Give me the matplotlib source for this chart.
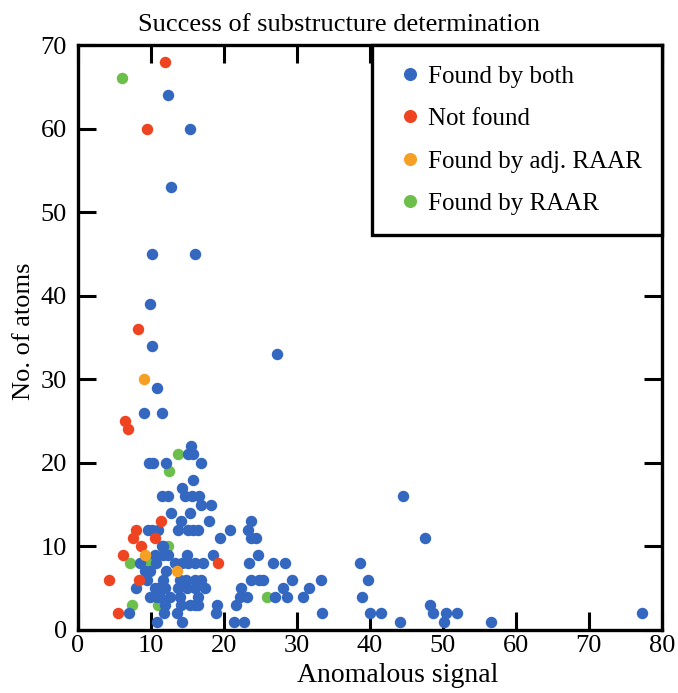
import matplotlib
matplotlib.use("Agg")
import matplotlib.pyplot as plt
from matplotlib.lines import Line2D

plt.rcParams['font.family'] = ['Liberation Serif', 'DejaVu Serif']

# Found by both (blue)
both_x = [12.3, 15.3, 12.8, 10.2, 16.0, 9.9, 10.2, 10.8, 9.0, 11.5, 27.3, 15.5,
          44.5, 47.5, 38.7, 39.8, 38.9, 40.0, 41.5, 44.2, 48.2, 48.6, 50.4, 50.2, 51.9, 56.6, 77.3,
          15.1, 15.7, 12.1, 16.8, 9.8, 10.3, 15.8, 14.3, 11.5, 12.4, 14.7, 15.6, 16.6,
          16.9, 18.2, 12.8, 15.3, 14.1, 17.9, 23.7,
          9.6, 10.2, 11.0, 13.7, 15.1, 15.8, 16.5, 20.9, 23.3,
          19.4, 23.7, 24.4, 11.7, 11.5,
          10.5, 11.6, 12.4, 15.0, 18.5, 24.7,
          8.5, 10.7, 13.3, 14.2, 15.1, 16.0, 17.2, 23.5, 26.7, 28.4,
          9.2, 9.9, 12.1,
          9.4, 11.7, 14.0, 14.8, 16.0, 16.9, 23.7, 24.8, 25.4, 29.3, 33.3,
          7.9, 10.5, 11.0, 11.9, 13.7, 14.9, 16.0, 17.4, 22.3, 28.1, 31.6,
          9.9, 10.8, 11.2, 12.6, 14.0, 16.4, 22.2, 23.2, 27.0, 28.6, 30.8,
          11.9, 14.1, 15.3, 16.0, 16.5, 19.1, 21.6,
          7.0, 11.8, 13.6, 18.9, 33.5,
          10.8, 14.3, 21.4, 22.7]
both_y = [64, 60, 53, 45, 45, 39, 34, 29, 26, 26, 33, 22,
          16, 11, 8, 6, 4, 2, 2, 1, 3, 2, 2, 1, 2, 1, 2,
          21, 21, 20, 20, 20, 20, 18, 17, 16, 16, 16, 16, 16,
          15, 15, 14, 14, 13, 13, 13,
          12, 12, 12, 12, 12, 12, 12, 12, 12,
          11, 11, 11, 10, 10,
          9, 9, 9, 9, 9, 9,
          8, 8, 8, 8, 8, 8, 8, 8, 8, 8,
          7, 7, 7,
          6, 6, 6, 6, 6, 6, 6, 6, 6, 6, 6,
          5, 5, 5, 5, 5, 5, 5, 5, 5, 5, 5,
          4, 4, 4, 4, 4, 4, 4, 4, 4, 4, 4,
          3, 3, 3, 3, 3, 3, 3,
          2, 2, 2, 2, 2,
          1, 1, 1, 1]

# Not found (red)
notfound_x = [11.9, 9.5, 8.2, 6.5, 6.8, 11.4, 8.0, 7.5, 10.5, 8.6, 6.2, 19.2, 4.3, 8.3, 5.5]
notfound_y = [68, 60, 36, 25, 24, 13, 12, 11, 11, 10, 9, 8, 6, 6, 2]

# Found by adj. RAAR (orange)
adj_x = [9.1, 9.2, 13.6]
adj_y = [30, 9, 7]

# Found by RAAR (green)
raar_x = [6.1, 13.7, 12.5, 12.3, 7.1, 8.7, 9.6, 25.9, 11.0, 7.4]
raar_y = [66, 21, 19, 10, 8, 8, 8, 4, 3, 3]

c_both = '#3468C0'
c_nf = '#EE4422'
c_adj = '#F59F25'
c_raar = '#6CBF4A'

fig = plt.figure(figsize=(6.78, 6.93), dpi=100)
ax = fig.add_axes([0.115, 0.091, 0.861, 0.844])

ms = 68
ax.scatter(raar_x, raar_y, s=ms, color=c_raar, linewidths=0, zorder=2)
ax.scatter(both_x, both_y, s=ms, color=c_both, linewidths=0, zorder=3)
ax.scatter(notfound_x, notfound_y, s=ms, color=c_nf, linewidths=0, zorder=4)
ax.scatter(adj_x, adj_y, s=ms, color=c_adj, linewidths=0, zorder=5)

ax.set_xlim(0, 80)
ax.set_ylim(0, 70)
ax.set_xticks(range(0, 81, 10))
ax.set_yticks(range(0, 71, 10))
ax.tick_params(direction='in', length=13, width=2.2, top=True, right=True,
               labelsize=19)
ax.tick_params(axis='y', pad=8)
ax.tick_params(axis='x', pad=4)
for sp in ax.spines.values():
    sp.set_linewidth(2.4)

ax.set_xlabel('Anomalous signal', fontsize=20, labelpad=4, x=0.548)
ax.set_ylabel('No. of atoms', fontsize=19, labelpad=4, y=0.51)
ax.set_title('Success of substructure determination', fontsize=19, pad=10, x=0.447)

handles = [Line2D([], [], marker='o', linestyle='', markersize=8.4, color=c)
           for c in (c_both, c_nf, c_adj, c_raar)]
labels = ['Found by both', 'Not found', 'Found by adj. RAAR', 'Found by RAAR']
leg = ax.legend(handles, labels, loc='upper right', fontsize=18, frameon=True,
                fancybox=False, borderaxespad=0, borderpad=0.8, labelspacing=0.8,
                handletextpad=0.0, handlelength=1.45, edgecolor='black', framealpha=1)
leg.get_frame().set_linewidth(2.4)

fig.savefig('out.png', dpi=100)
